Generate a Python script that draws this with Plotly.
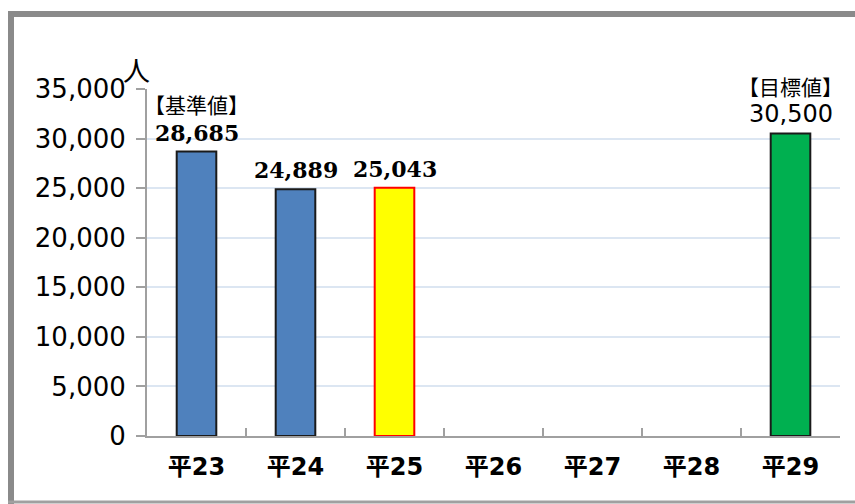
import plotly.graph_objects as go

categories = ["平23", "平24", "平25", "平26", "平27", "平28", "平29"]
values = [28685, 24889, 25043, None, None, None, 30500]
value_labels = ["28,685", "24,889", "25,043", "", "", "", "30,500"]
notes = ["【基準値】", "", "", "", "", "", "【目標値】"]
fill_colors = ["#4F81BD", "#4F81BD", "#FFFF00", "#4F81BD", "#4F81BD", "#4F81BD", "#00B050"]
line_colors = ["#1a1a1a", "#1a1a1a", "#FF0000", "#1a1a1a", "#1a1a1a", "#1a1a1a", "#1a1a1a"]
label_fonts = ["DejaVu Serif", "DejaVu Serif", "DejaVu Serif", "DejaVu Serif", "DejaVu Serif", "DejaVu Serif", "DejaVu Sans"]
label_weights = ["bold", "bold", "bold", "bold", "bold", "bold", "normal"]
y_ticks = [0, 5000, 10000, 15000, 20000, 25000, 30000, 35000]
unit_label = "人"

fig = go.Figure()
fig.add_trace(go.Bar(
    x=categories, y=values,
    marker=dict(color=fill_colors, line=dict(color=line_colors, width=2)),
    width=0.4,
    hoverinfo="skip",
))

L, R, T, B = 147, 15, 89, 68
W, H = 855, 504
pw, ph = W - L - R, H - T - B

for c, v, lab, note, fam, wt in zip(categories, values, value_labels, notes, label_fonts, label_weights):
    if v is None:
        continue
    fig.add_annotation(x=c, y=v, text=lab, showarrow=False, xanchor="center", yanchor="bottom",
                       yshift=4, font=dict(family=fam, size=22 if wt == "bold" else 24, color="#000", weight=wt))
    if note:
        fig.add_annotation(x=c, y=v, text=note, showarrow=False, xanchor="center", yanchor="bottom",
                           yshift=31, font=dict(family="Noto Sans CJK JP", size=21, color="#000"))

fig.add_annotation(xref="paper", yref="paper", x=(136 - L) / pw, y=(H - B - 70) / ph, text=unit_label,
                   showarrow=False, xanchor="center", yanchor="middle",
                   font=dict(family="Noto Sans CJK JP", size=27, color="#000"))

# frame lines
def px(xp):
    return (xp - L) / pw

def py(yp):
    return (H - B - yp) / ph

fig.add_shape(type="line", xref="paper", yref="paper", x0=px(8), x1=px(870), y0=py(14), y1=py(14),
              line=dict(color="#8a8a8a", width=6))
fig.add_shape(type="line", xref="paper", yref="paper", x0=px(11), x1=px(11), y0=py(11), y1=py(506),
              line=dict(color="#8a8a8a", width=6))
fig.add_shape(type="line", xref="paper", yref="paper", x0=px(8), x1=px(870), y0=py(502), y1=py(502),
              line=dict(color="#a0a0a0", width=3))

fig.update_layout(
    width=W, height=H,
    margin=dict(l=L, r=R, t=T, b=B),
    paper_bgcolor="white", plot_bgcolor="white",
    showlegend=False,
    bargap=0.6,
    xaxis=dict(
        type="category", tickson="boundaries", ticks="inside", ticklen=8, tickcolor="#a0a0a0", tickwidth=2,
        showline=True, linecolor="#a0a0a0", linewidth=2,
        tickfont=dict(family="DejaVu Sans, Noto Sans CJK JP", size=24, color="#000", weight="bold"),
        ticklabelstandoff=8, showgrid=False, range=[-0.5, 6.5],
    ),
    yaxis=dict(
        range=[0, 35000], tickvals=y_ticks, tickformat=",",
        ticks="outside", ticklen=9, tickcolor="#a0a0a0", tickwidth=2,
        showline=True, linecolor="#a0a0a0", linewidth=2,
        showgrid=True, gridcolor="#DCE6F2", gridwidth=2, zeroline=False,
        tickfont=dict(family="DejaVu Sans", size=26, color="#000"),
        ticklabelstandoff=5,
    ),
)

fig.write_html("out.html")
